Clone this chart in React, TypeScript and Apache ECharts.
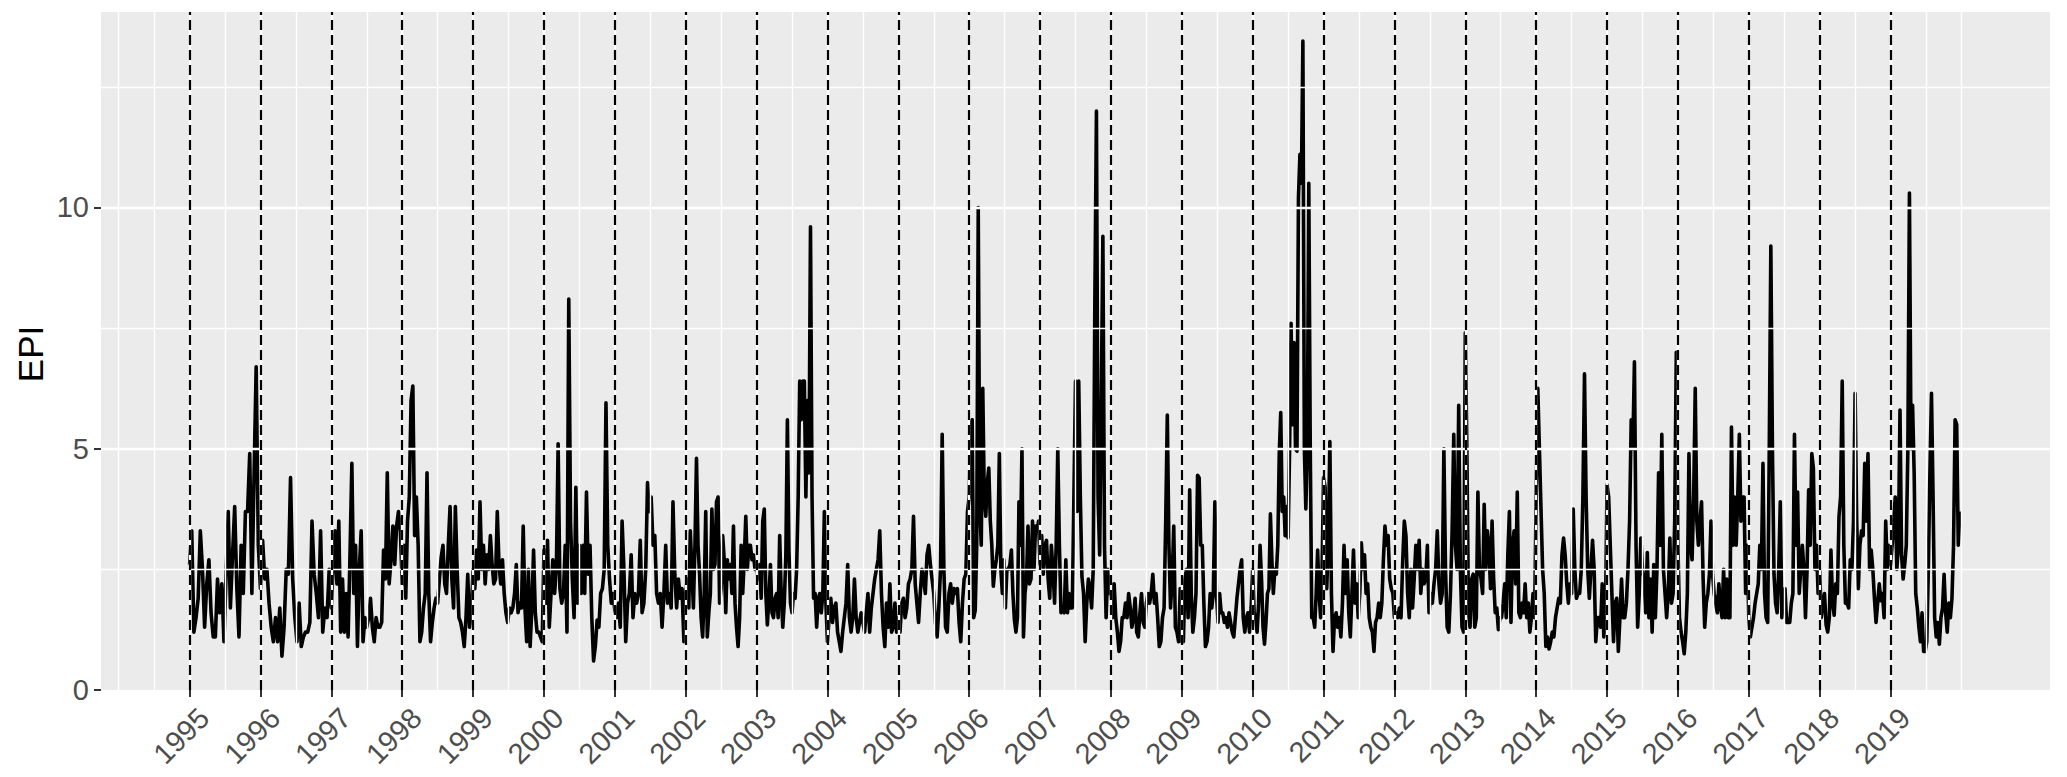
import React, { useEffect, useRef } from "react";
import * as echarts from "echarts";

const yearTicks = [1995, 1996, 1997, 1998, 1999, 2000, 2001, 2002, 2003, 2004, 2005, 2006, 2007, 2008, 2009, 2010, 2011, 2012, 2013, 2014, 2015, 2016, 2017, 2018, 2019];
const yTickLabels = [0, 5, 10];
const yMajorBreaks = [5, 10];
const yMinorBreaks = [2.5, 7.5, 12.5];

const epi1995 = [2.6, 3.3, 1.2, 1.5, 1.9, 3.3, 2.5, 1.3, 2.2, 2.7, 1.6, 1.1, 1.1, 2.3, 1.6, 2.2, 1.0, 2.4, 3.7, 1.7, 2.8, 3.8, 2.1, 1.1, 3.0, 2.0, 3.7, 3.7, 4.9, 2.0, 4.4, 6.7, 3.0];
const epi1996 = [2.1, 3.1, 2.3, 2.5, 1.8, 1.3, 1.0, 1.5, 1.0, 1.7, 0.7, 1.3, 2.5, 2.4, 4.4, 2.3, 1.5, 1.0, 1.8, 0.9, 1.1, 1.2, 1.2, 1.4, 3.5, 2.4, 2.0, 1.5, 3.3, 1.2, 1.7, 1.5, 2.5];
const epi1997 = [1.7, 2.6, 3.3, 2.2, 3.5, 1.2, 2.3, 1.2, 2.0, 1.1, 2.8, 4.7, 2.0, 3.0, 0.9, 2.5, 3.3, 1.0, 1.5, 1.3, 1.5, 1.9, 1.3, 1.0, 1.5, 1.3, 1.3, 1.4, 2.9, 2.3, 4.5, 2.2, 2.7, 3.4, 2.6, 3.4, 3.7, 3.3];
const epi1998 = [2.2, 3.0, 1.9, 3.5, 4.0, 6.0, 6.3, 3.2, 4.0, 3.0, 1.0, 1.2, 1.7, 2.0, 4.5, 2.0, 1.0, 1.4, 1.7, 1.9, 1.8, 2.3, 2.75, 3.0, 2.2, 2.0, 3.0, 3.8, 2.3, 1.7, 3.8, 2.5, 1.5, 1.4, 1.2, 0.9, 1.5, 2.4, 1.3, 1.6];
const epi1999 = [2.5, 2.1, 2.9, 2.3, 3.9, 2.5, 3.0, 2.2, 2.8, 2.5, 3.2, 2.6, 2.2, 2.3, 3.7, 2.6, 2.2, 2.7, 2.0, 1.6, 1.4, 1.7, 1.6, 1.7, 2.0, 2.6, 1.6, 1.8, 1.7, 3.4, 1.7, 1.0, 2.5, 0.9, 1.7, 2.9, 1.6, 1.2, 1.2, 1.1, 1.0];
const epi2000 = [2.9, 1.8, 3.1, 1.3, 2.0, 2.7, 2.0, 2.5, 5.1, 2.1, 1.8, 2.0, 3.0, 1.2, 8.1, 3.5, 2.3, 1.5, 4.2, 1.8, 3.0, 2.0, 3.0, 2.0, 4.1, 2.4, 3.0, 1.5, 0.6, 0.9, 1.45, 1.3, 2.0, 2.1, 2.5, 5.95, 3.0, 2.3, 1.8, 2.0];
const epi2001 = [1.65, 1.5, 1.8, 1.3, 3.5, 2.5, 1.0, 1.8, 2.0, 2.8, 1.5, 2.0, 1.8, 2.0, 3.1, 1.6, 1.8, 2.5, 4.3, 3.7, 4.0, 3.0, 3.2, 2.0, 1.8, 2.0, 1.3, 2.0, 3.0, 1.8, 2.0, 1.7, 3.9, 2.4, 1.7, 2.3, 1.9, 2.1, 1.0];
const epi2002 = [2.0, 2.3, 1.7, 3.3, 2.5, 1.7, 3.0, 4.8, 3.0, 2.4, 1.5, 1.1, 2.0, 3.7, 1.1, 1.6, 2.0, 3.75, 2.5, 2.6, 3.9, 4.0, 1.8, 2.1, 3.2, 2.7, 1.6, 2.7, 2.3, 2.6, 2.0, 3.4, 1.8, 1.3, 0.9, 1.5, 3.0, 2.0, 2.7, 3.6, 2.5, 3.0, 3.0, 2.7, 2.8, 2.5];
const epi2003 = [2.6, 2.3, 2.6, 1.9, 3.5, 3.75, 2.0, 1.35, 1.9, 2.6, 1.6, 1.5, 1.9, 2.0, 1.5, 3.2, 2.0, 1.3, 1.8, 2.8, 5.6, 2.9, 1.8, 1.6, 2.0, 1.9, 2.5, 4.0, 6.4, 5.6, 6.4, 6.4, 4.0, 6.0, 4.5, 9.6, 4.0, 1.9, 2.0, 1.3, 1.9, 2.0, 1.6, 2.0, 3.7, 1.8];
const epi2004 = [1.0, 1.5, 1.9, 1.4, 1.7, 1.8, 1.2, 1.0, 0.8, 1.2, 1.5, 1.8, 2.6, 1.5, 1.2, 1.5, 2.3, 1.5, 1.2, 1.4, 1.6, 1.4, 1.2, 1.6, 2.0, 1.2, 1.7, 2.0, 2.3, 2.5, 2.7, 3.3, 2.0, 1.3, 0.9, 1.8, 1.3, 2.2, 1.2, 1.3, 1.8, 1.2];
const epi2005 = [1.5, 1.2, 1.8, 1.9, 1.5, 1.7, 2.2, 2.3, 2.5, 3.6, 2.2, 1.8, 1.4, 2.0, 2.5, 2.3, 2.0, 2.8, 3.0, 2.6, 2.3, 2.0, 1.4, 1.1, 1.7, 2.5, 5.3, 2.5, 1.3, 1.2, 2.0, 2.2, 1.8, 2.1, 2.0, 2.1, 1.4, 1.0, 1.8, 2.3, 2.4, 3.7];
const epi2006 = [4.0, 5.5, 5.6, 1.5, 1.65, 3.0, 10.0, 3.8, 3.0, 6.25, 4.0, 3.6, 4.3, 4.6, 3.5, 3.0, 2.15, 2.5, 2.7, 3.0, 4.9, 2.5, 2.0, 2.7, 1.7, 2.5, 2.5, 2.6, 2.9, 2.0, 1.45, 1.2, 1.5, 3.9, 3.0, 5.0, 1.1, 2.0, 2.3, 3.4, 2.2, 2.3, 3.5, 2.5, 3.4, 3.3, 3.5];
const epi2007 = [2.6, 3.2, 2.4, 3.0, 3.1, 2.3, 1.9, 3.0, 2.5, 1.8, 3.0, 5.0, 3.0, 1.6, 1.7, 1.6, 2.7, 1.6, 2.0, 1.7, 1.7, 4.0, 6.4, 3.7, 6.4, 4.0, 2.35, 2.0, 1.0, 1.8, 2.3, 2.1, 1.7, 2.5, 8.0, 12.0, 4.0, 2.8, 6.0, 9.4, 3.0, 1.5, 2.5, 2.0];
const epi2008 = [2.2, 1.5, 2.2, 1.5, 1.2, 0.8, 1.0, 1.5, 1.5, 1.8, 1.5, 2.0, 1.7, 1.3, 1.5, 1.9, 1.2, 1.1, 1.6, 2.0, 1.4, 1.3, 1.8, 2.0, 1.8, 2.0, 2.4, 1.8, 2.0, 1.5, 0.9, 1.0, 1.5, 1.7, 3.5, 5.7, 3.0, 1.7, 2.3, 3.4, 1.3, 1.2, 1.0, 2.1];
const epi2009 = [1.0, 1.0, 2.3, 2.5, 1.5, 4.15, 2.0, 1.2, 1.5, 2.0, 4.45, 4.4, 3.0, 3.0, 1.8, 0.9, 1.0, 1.3, 2.0, 1.7, 2.0, 3.9, 2.0, 1.4, 2.0, 1.6, 1.6, 1.4, 1.5, 1.3, 1.6, 1.4, 1.2, 1.1, 1.5, 1.9, 2.2, 2.5, 2.7, 1.5, 1.2, 1.5, 1.6, 1.2, 1.7];
const epi2010 = [2.5, 1.6, 1.5, 1.2, 1.8, 3.0, 2.3, 1.3, 0.95, 1.4, 2.0, 2.1, 3.65, 2.7, 2.0, 2.5, 2.4, 3.0, 4.9, 5.75, 3.7, 4.0, 3.2, 3.8, 3.15, 5.0, 7.6, 5.5, 7.2, 5.0, 4.95, 10.2, 11.1, 10.5, 13.45, 5.0, 3.75, 5.0, 10.5, 5.0, 1.5, 1.5, 1.3, 2.0, 2.9, 2.0, 1.5, 2.5];
const epi2011 = [4.4, 4.2, 2.1, 3.0, 5.15, 2.0, 0.8, 1.5, 1.6, 1.3, 1.5, 1.1, 1.8, 3.0, 2.0, 2.7, 1.6, 1.1, 2.0, 2.9, 1.8, 2.2, 1.5, 2.0, 3.05, 2.5, 2.8, 2.0, 2.2, 1.5, 1.3, 1.2, 0.8, 1.4, 1.5, 1.8, 1.5, 1.8, 2.7, 3.4, 3.0, 3.2, 2.3, 2.1, 2.0];
const epi2012 = [1.5, 1.6, 1.5, 1.7, 1.5, 2.65, 3.5, 3.2, 2.0, 1.5, 2.5, 1.7, 2.3, 3.0, 2.5, 3.1, 2.0, 2.5, 2.2, 2.3, 3.0, 1.6, 2.0, 1.8, 2.2, 2.5, 3.3, 2.2, 1.8, 2.0, 5.0, 2.5, 1.3, 1.2, 2.0, 3.3, 5.3, 3.0, 2.5, 5.9, 2.5, 1.3, 1.2];
const epi2013 = [7.4, 5.0, 1.6, 1.3, 2.3, 2.4, 1.3, 1.5, 4.1, 2.5, 2.3, 2.0, 3.85, 2.5, 3.3, 3.0, 2.1, 3.5, 2.3, 1.6, 1.7, 1.25, 1.5, 1.5, 1.8, 2.2, 1.5, 2.8, 3.7, 1.4, 3.0, 3.3, 2.2, 4.1, 1.6, 1.5, 1.8, 1.6, 2.2, 1.5, 1.8, 1.2, 1.5, 2.0, 1.5];
const epi2014 = [4.0, 6.25, 5.0, 3.75, 2.5, 2.0, 0.9, 1.1, 0.85, 1.0, 1.2, 1.1, 1.5, 1.7, 1.9, 1.8, 2.8, 3.15, 2.8, 2.2, 1.8, 2.2, 2.0, 3.75, 2.5, 1.9, 2.0, 2.0, 2.5, 4.0, 6.55, 4.0, 2.5, 1.9, 2.5, 3.1, 2.5, 1.0, 1.5, 1.5, 1.3, 2.2, 1.1, 1.5];
const epi2015 = [4.25, 4.0, 3.0, 2.0, 1.0, 1.8, 1.9, 0.8, 1.5, 2.3, 1.5, 1.5, 1.8, 2.5, 3.5, 5.6, 5.0, 6.8, 3.0, 1.3, 2.0, 3.15, 2.5, 2.3, 1.6, 2.85, 1.5, 2.3, 1.2, 2.6, 1.5, 2.5, 4.5, 3.0, 5.3, 2.5, 2.0, 1.5, 2.0, 3.15, 1.8, 2.0, 3.5, 7.0];
const epi2016 = [3.0, 1.5, 1.2, 1.0, 0.75, 1.2, 2.0, 4.9, 3.0, 2.7, 4.0, 6.25, 3.5, 3.0, 3.5, 3.9, 2.3, 1.3, 1.8, 2.0, 2.4, 3.5, 2.4, 2.0, 1.8, 1.6, 2.2, 1.75, 1.5, 2.5, 1.5, 2.3, 1.5, 1.5, 5.45, 3.0, 4.0, 3.0, 4.0, 5.3, 3.5, 4.0, 4.0, 2.0, 3.0];
const epi2017 = [1.5, 1.1, 1.3, 1.5, 1.8, 2.0, 2.2, 3.0, 2.5, 4.7, 2.0, 1.5, 1.4, 5.0, 9.2, 5.0, 2.4, 1.8, 1.6, 2.5, 3.9, 1.5, 2.0, 2.1, 1.4, 1.4, 1.4, 1.8, 2.0, 5.3, 3.0, 4.1, 2.0, 2.5, 3.0, 2.5, 1.5, 2.5, 4.15, 3.0, 4.9, 4.6, 2.5, 3.0, 2.0];
const epi2018 = [2.5, 1.5, 1.8, 2.0, 1.35, 1.2, 1.5, 2.9, 1.8, 1.55, 2.2, 2.0, 3.6, 4.0, 6.4, 3.0, 1.8, 1.8, 1.7, 2.7, 2.5, 3.5, 6.15, 3.5, 2.1, 3.0, 3.3, 3.2, 4.7, 3.5, 4.9, 2.5, 2.9, 2.5, 1.9, 1.4, 1.8, 2.2, 1.85, 2.0, 1.5, 3.5, 2.5, 3.0];
const epi2019 = [2.6, 3.0, 3.5, 4.0, 2.5, 3.0, 5.8, 2.8, 2.3, 2.6, 3.0, 5.0, 10.3, 5.0, 5.9, 4.5, 2.0, 1.7, 1.3, 1.0, 1.6, 0.8, 0.8, 1.0, 2.5, 4.5, 6.15, 4.0, 1.5, 1.1, 1.4, 0.95, 1.5, 1.7, 2.4, 1.6, 1.2, 1.8, 1.5, 1.9, 3.0, 5.6, 5.5, 3.0, 3.7];

const epiByYear: [number, number[]][] = [
  [1995, epi1995], [1996, epi1996], [1997, epi1997], [1998, epi1998], [1999, epi1999],
  [2000, epi2000], [2001, epi2001], [2002, epi2002], [2003, epi2003], [2004, epi2004],
  [2005, epi2005], [2006, epi2006], [2007, epi2007], [2008, epi2008], [2009, epi2009],
  [2010, epi2010], [2011, epi2011], [2012, epi2012], [2013, epi2013], [2014, epi2014],
  [2015, epi2015], [2016, epi2016], [2017, epi2017], [2018, epi2018], [2019, epi2019],
];

const FONT = "'Liberation Sans', Arial, Helvetica, sans-serif";

export default function App() {
  const ref = useRef<HTMLDivElement>(null);

  useEffect(() => {
    if (!ref.current) return;
    const chart = echarts.init(ref.current, null, { renderer: "svg" });

    const data = epiByYear.flatMap(([yr, vals]) =>
      vals.map((v, i) => [yr + i / vals.length, v])
    );
    const first = yearTicks[0];
    const last = yearTicks[yearTicks.length - 1];
    const xMinor = [first - 1, ...yearTicks.map((y) => y - 0.5), last + 0.5, last + 1];

    const gridLines = [
      ...xMinor.map((v) => ({ xAxis: v, lineStyle: { width: 1.4 } })),
      ...yearTicks.map((v) => ({ xAxis: v, lineStyle: { width: 2.4 } })),
      ...yMinorBreaks.map((v) => ({ yAxis: v, lineStyle: { width: 1.4 } })),
      ...yMajorBreaks.map((v) => ({ yAxis: v, lineStyle: { width: 2.4 } })),
    ];

    chart.setOption({
      animation: false,
      backgroundColor: "#ffffff",
      grid: {
        left: 101,
        right: 17,
        top: 12,
        bottom: 87,
        show: true,
        backgroundColor: "#EBEBEB",
        borderWidth: 0,
        containLabel: false,
        outerBoundsMode: "none",
      },
      graphic: [
        {
          type: "text",
          x: 30,
          y: 354,
          rotation: Math.PI / 2,
          silent: true,
          style: {
            text: "EPI",
            fontSize: 35,
            fontFamily: FONT,
            fill: "#000000",
            align: "center",
            verticalAlign: "middle",
          },
        },
      ],
      xAxis: {
        type: "value",
        min: 1993.75,
        max: 2021.25,
        axisLine: { show: false },
        splitLine: { show: false },
        axisTick: {
          show: true,
          customValues: yearTicks,
          length: 7,
          lineStyle: { color: "#333333", width: 2 },
        },
        axisLabel: {
          show: true,
          customValues: yearTicks,
          rotate: 45,
          align: "right",
          verticalAlign: "top",
          margin: 17,
          padding: [0, -6, 0, 0],
          fontSize: 29,
          fontFamily: FONT,
          color: "#4D4D4D",
          formatter: (v: number) => String(v),
        },
      },
      yAxis: {
        type: "value",
        min: 0,
        max: 14.05,
        interval: 5,
        axisLine: { show: false },
        splitLine: { show: false },
        axisTick: {
          show: true,
          customValues: yTickLabels,
          length: 7,
          lineStyle: { color: "#333333", width: 2 },
        },
        axisLabel: {
          show: true,
          customValues: yTickLabels,
          margin: 12,
          fontSize: 29,
          fontFamily: FONT,
          color: "#4D4D4D",
        },
      },
      series: [
        {
          type: "line",
          data: [],
          silent: true,
          z: 1,
          markLine: {
            silent: true,
            symbol: ["none", "none"],
            label: { show: false },
            lineStyle: { color: "#FFFFFF", type: "solid" },
            data: gridLines,
          },
        },
        {
          type: "line",
          name: "EPI",
          data,
          showSymbol: false,
          symbol: "none",
          smooth: false,
          z: 3,
          lineStyle: { color: "#000000", width: 3.6, join: "round" },
          markLine: {
            silent: true,
            symbol: ["none", "none"],
            label: { show: false },
            lineStyle: { color: "#000000", type: [10, 5], width: 2.2 },
            data: yearTicks.map((v) => ({ xAxis: v })),
          },
        },
      ],
    });

    return () => chart.dispose();
  }, []);

  return (
    <div
      ref={ref}
      style={{ position: "fixed", left: 0, top: 0, width: 2067, height: 777 }}
    />
  );
}
